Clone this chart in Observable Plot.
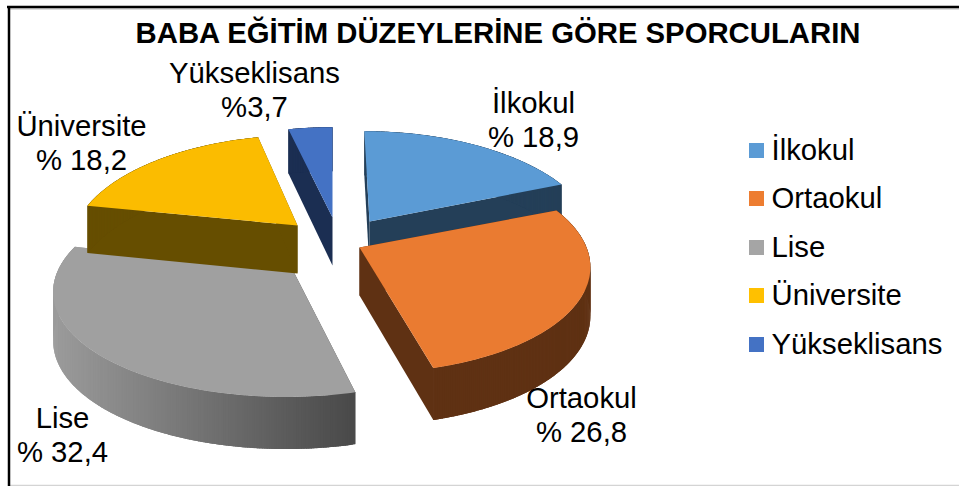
<!DOCTYPE html>
<html>
<head>
<meta charset="utf-8">
<script src="https://cdn.jsdelivr.net/npm/d3@7"></script>
<script src="https://cdn.jsdelivr.net/npm/@observablehq/plot@0.6"></script>
<style>html,body{margin:0;padding:0;background:#fff}svg{display:block}</style>
</head>
<body>
<div id="chart"></div>
<script>
const title = "BABA EĞİTİM DÜZEYLERİNE GÖRE SPORCULARIN";
const categories = ["İlkokul", "Ortaokul", "Lise", "Üniversite", "Yükseklisans"];
const shares = [18.9, 26.8, 32.4, 18.2, 3.7];
const shareLabels = ["% 18,9", "% 26,8", "% 32,4", "% 18,2", "%3,7"];
const topColors = ["#5b9bd5", "#ea7b31", "#a0a0a0", "#fbbc00", "#4472c4"];
const wallColors = ["#243f58", "#5f3113", "#9c9c9c", "#664e00", "#1b2e52"];
const wallColorsEnd = ["#243f58", "#5f3113", "#4a4a4a", "#664e00", "#1b2e52"];
const legendColors = ["#5b9bd5", "#ed7d31", "#a5a5a5", "#ffc000", "#4472c4"];

// exploded-slice layout of the 3D pie
const apexX = [369, 359, 293, 297, 332];
const apexY = [221, 247, 271, 225, 217];
const radiusX = [222, 227, 236, 222, 222];
const startTurn = [0, 0, 1.2, 0, 0];
const endTurn = [0, 0.7, 3, 0, 0];
const radiusY = 105, persp = 0.163, vanishX = 332, depth = 48, depthK = 0.085;
const labelX = [533, 581, 62, 81, 254];
const labelY = [119, 414, 434, 142, 89];
const legendY = [150.5, 198.5, 247.5, 295.5, 344.5];

const total = d3.sum(shares);
const cum = d3.cumsum(shares);
function project(i, deg, down) {
  const a = deg * Math.PI / 180, u = Math.sin(a), v = Math.cos(a), w = 1 + persp * v;
  const X = apexX[i] - vanishX + radiusX[i] * u;
  return [vanishX + X / w, apexY[i] - radiusY * v / w + (down ? depth * (1 - depthK * v) : 0)];
}
function apex(i, down) {
  return [apexX[i], apexY[i] + (down ? depth : 0)];
}
function poly(id, color, pts) {
  return pts.map(([x, y]) => ({id, color, x, y}));
}
const sliceMarks = categories.flatMap((c, i) => {
  const a0 = (cum[i] - shares[i]) / total * 360 + startTurn[i];
  const a1 = cum[i] / total * 360 + endTurn[i];
  const walls = [
    ...poly(`${c}-cut0`, wallColorsEnd[i], [apex(i, false), project(i, a0, false), project(i, a0, true), apex(i, true)]),
    ...poly(`${c}-cut1`, wallColors[i], [apex(i, false), project(i, a1, false), project(i, a1, true), apex(i, true)])
  ];
  // outer wall: overlapping facets, so the shading can follow x without seams
  const shade = d3.interpolateRgb(wallColors[i], wallColorsEnd[i]);
  const [xmin, xmax] = d3.extent(d3.range(a0, a1 + 0.01, 1), a => project(i, a, false)[0]);
  const steps = d3.range(a0, a1, 0.5);
  // paint from the far end so that each facet's overlap lies under the next one
  steps.reverse().forEach(a => {
    const b = Math.min(a + 1.2, a1);
    const pa = project(i, a, false), pb = project(i, b, false);
    walls.push(...poly(`${c}-wall${a}`, shade((pa[0] - xmin) / (xmax - xmin)),
      [pa, pb, project(i, b, true), project(i, a, true)]));
  });
  const top = [apex(i, false)];
  for (let a = a0; a < a1; a += 1) top.push(project(i, a, false));
  top.push(project(i, a1, false));
  return [
    Plot.line(walls, {x: "x", y: "y", z: "id", fill: "color", stroke: "none", curve: "linear-closed"}),
    Plot.line(poly(`${c}-top`, topColors[i], top), {x: "x", y: "y", z: "id", fill: "color", stroke: "none", curve: "linear-closed"})
  ];
});

const labels = categories.map((c, i) => ({text: `${c}\n${shareLabels[i]}`, x: labelX[i], y: labelY[i]}));
const legend = categories.map((c, i) => ({c, y: legendY[i], color: legendColors[i]}));

const plot = Plot.plot({
  width: 959, height: 486, margin: 0,
  x: {domain: [0, 959], range: [0, 959], axis: null},
  y: {domain: [0, 486], range: [0, 486], axis: null},
  color: {type: "identity"},
  style: {fontFamily: "'Liberation Sans', Arial, sans-serif", background: "#fff", color: "#000"},
  marks: [
    Plot.ruleY([8.5], {x1: 8, x2: 959, stroke: "#bbbbbb", strokeWidth: 1}),
    Plot.ruleY([485], {x1: 8, x2: 959, stroke: "#d4d4d4", strokeWidth: 1.5}),
    Plot.ruleY([6.5], {x1: 7, x2: 959, stroke: "#000", strokeWidth: 2.5}),
    Plot.ruleX([8.5], {y1: 6, y2: 486, stroke: "#000", strokeWidth: 2.5}),
    ...sliceMarks,
    Plot.text([title], {x: 497.5, y: 33, text: d => d, fontSize: 29.3, fontWeight: "bold", fill: "#000"}),
    Plot.text(labels, {x: "x", y: "y", text: "text", fontSize: 29.3, lineHeight: 1.16, fill: "#000"}),
    Plot.rect(legend, {x1: 749, x2: 764, y1: d => d.y - 7.5, y2: d => d.y + 7.5, fill: "color"}),
    Plot.text(legend, {x: 771, y: "y", text: "c", textAnchor: "start", fontSize: 29.3, fill: "#000"})
  ]
});
document.getElementById("chart").append(plot);
</script>
</body>
</html>
